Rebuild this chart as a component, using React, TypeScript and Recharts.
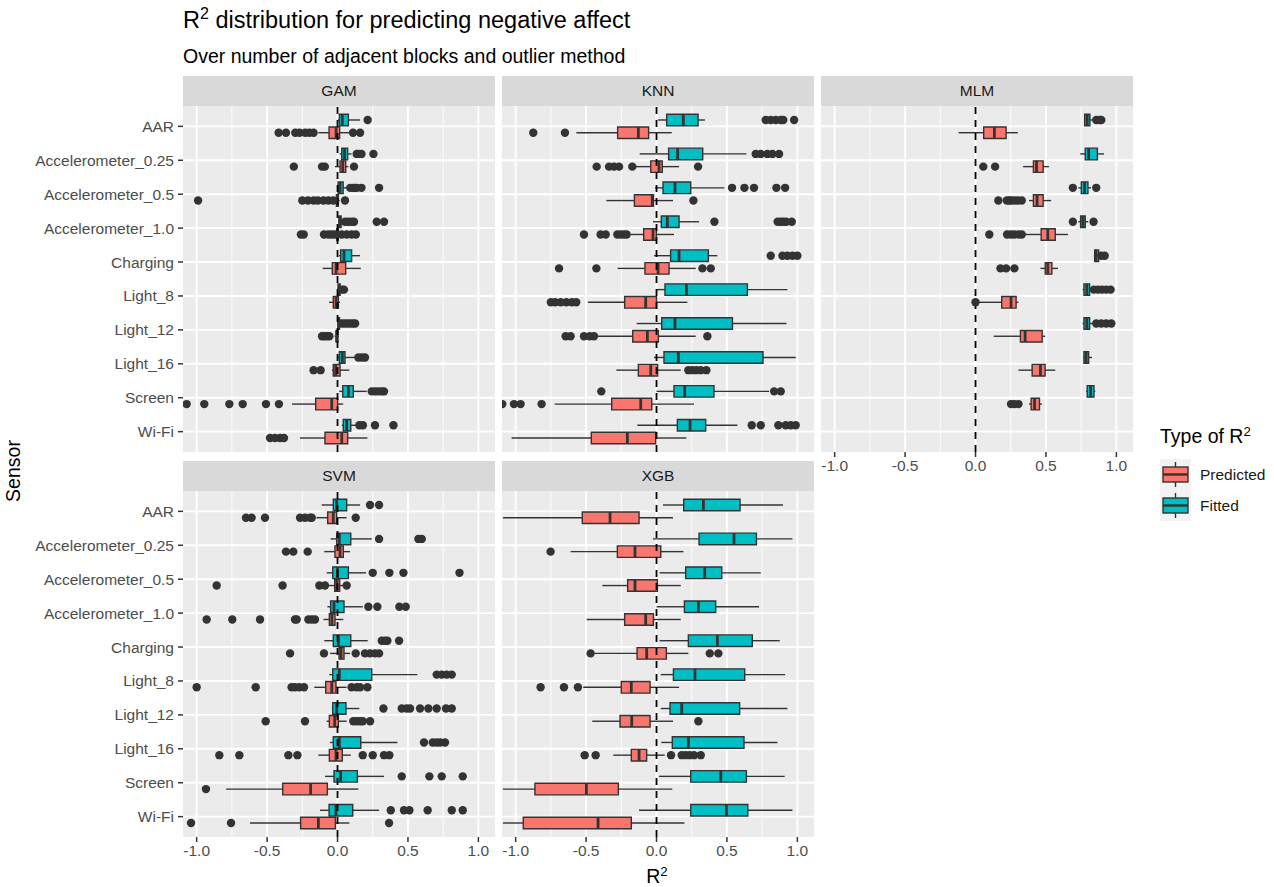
import React from 'react';
import { ScatterChart, Scatter, XAxis, YAxis, CartesianGrid, ReferenceArea, ReferenceLine } from 'recharts';

const FONT = '"Liberation Sans", Arial, Helvetica, sans-serif';
const INK = '#333333';
const FITTED = '#00BFC4';
const PREDICTED = '#F8766D';

const sensors = ['AAR', 'Accelerometer_0.25', 'Accelerometer_0.5', 'Accelerometer_1.0', 'Charging', 'Light_8', 'Light_12', 'Light_16', 'Screen', 'Wi-Fi'];
const sensorIdx = sensors.map((_, i) => i);
const majorX = [-1, -0.5, 0, 0.5, 1];
const minorX = [-0.75, -0.25, 0.25, 0.75];

// box stats per sensor: [lower whisker, q1, median, q3, upper whisker]
const gamFitted = [
  [0.005, 0.013, 0.034, 0.077, 0.16], [0.015, 0.03, 0.05, 0.072, 0.1], [0.0, 0.004, 0.018, 0.04, 0.07],
  [0.005, 0.01, 0.018, 0.025, 0.035], [0.01, 0.022, 0.046, 0.1, 0.16], [0.0, 0.005, 0.01, 0.018, 0.025],
  [0.0, 0.004, 0.008, 0.014, 0.02], [0.005, 0.013, 0.034, 0.053, 0.125], [0.012, 0.037, 0.077, 0.112, 0.207],
  [0.03, 0.041, 0.065, 0.094, 0.13],
];
const gamFittedOut = [
  [0.214], [0.136, 0.15, 0.17, 0.255], [0.09, 0.11, 0.125, 0.136, 0.17, 0.295], [0.053, 0.077, 0.1, 0.117, 0.278, 0.33],
  [], [0.03, 0.046], [0.03, 0.05, 0.07, 0.09, 0.11, 0.125], [0.148, 0.172, 0.195], [0.243, 0.267, 0.29, 0.314, 0.33],
  [0.155, 0.18, 0.266, 0.397],
];
const gamPredicted = [
  [-0.136, -0.06, -0.01, 0.015, 0.09], [-0.018, 0.018, 0.037, 0.058, 0.077], [-0.015, -0.008, 0.0, 0.006, 0.015],
  [-0.01, -0.005, 0.0, 0.006, 0.012], [-0.105, -0.037, -0.01, 0.058, 0.165], [-0.06, -0.03, -0.01, 0.006, 0.018],
  [-0.02, -0.01, -0.005, 0.003, 0.01], [-0.04, -0.03, -0.013, 0.018, 0.084], [-0.323, -0.155, -0.041, 0.001, 0.04],
  [-0.266, -0.089, 0.03, 0.072, 0.212],
];
const gamPredictedOut = [
  [-0.418, -0.366, -0.3, -0.27, -0.23, -0.2, -0.17, 0.11, 0.16], [-0.31, -0.11, -0.09, 0.117],
  [-0.99, -0.25, -0.21, -0.17, -0.14, -0.1, -0.065, -0.03, 0.053],
  [-0.26, -0.24, -0.096, -0.065, -0.041, -0.018, 0.03, 0.065, 0.1, 0.13], [], [],
  [-0.11, -0.095, -0.077, -0.058], [-0.17, -0.12], [-1.071, -0.946, -0.768, -0.673, -0.508, -0.416],
  [-0.479, -0.444, -0.408, -0.38],
];

const knnFitted = [
  [0.01, 0.072, 0.19, 0.295, 0.344], [-0.12, 0.086, 0.15, 0.328, 0.638], [-0.01, 0.046, 0.131, 0.243, 0.482],
  [-0.025, 0.034, 0.077, 0.16, 0.302], [-0.018, 0.1, 0.16, 0.368, 0.432], [0.0, 0.06, 0.212, 0.645, 0.929],
  [-0.141, 0.037, 0.131, 0.539, 0.922], [-0.018, 0.053, 0.155, 0.756, 0.988], [0.0, 0.124, 0.2, 0.408, 0.799],
  [-0.136, 0.148, 0.238, 0.349, 0.574],
];
const knnFittedOut = [
  [0.775, 0.811, 0.847, 0.882, 0.9, 0.977], [0.704, 0.74, 0.787, 0.823, 0.87], [0.536, 0.624, 0.692, 0.851, 0.913],
  [0.411, 0.86, 0.88, 0.9, 0.92, 0.96], [0.811, 0.894, 0.929, 0.965, 1.0], [], [], [],
  [-0.392, 0.835, 0.882], [0.676, 0.74, 0.865, 0.917, 0.953, 0.988],
];
const knnPredicted = [
  [-0.569, -0.276, -0.129, -0.056, 0.108], [-0.148, -0.041, 0.018, 0.041, 0.16], [-0.356, -0.157, -0.03, -0.022, 0.117],
  [-0.183, -0.091, -0.025, -0.001, 0.124], [-0.276, -0.082, 0.011, 0.089, 0.278], [-0.487, -0.226, -0.077, 0.0, 0.219],
  [-0.415, -0.169, -0.065, 0.013, 0.278], [-0.285, -0.129, -0.041, 0.008, 0.172], [-0.723, -0.318, -0.112, -0.034, 0.266],
  [-1.029, -0.463, -0.207, -0.006, 0.212],
];
const knnPredictedOut = [
  [-0.875, -0.65], [-0.425, -0.337, -0.302, -0.266, -0.172, 0.295], [0.262],
  [-0.515, -0.397, -0.361, -0.278, -0.254, -0.231, -0.212], [-0.692, -0.427, 0.326, 0.385],
  [-0.75, -0.72, -0.68, -0.64, -0.6, -0.57], [-0.645, -0.61, -0.515, -0.475, -0.444, 0.361],
  [0.226, 0.254, 0.283, 0.314, 0.354], [-1.095, -1.012, -0.965, -0.816], [],
];

const mlmFitted = [
  [0.77, 0.775, 0.793, 0.812, 0.83], [0.744, 0.779, 0.803, 0.865, 0.912], [0.73, 0.751, 0.774, 0.798, 0.82],
  [0.73, 0.746, 0.763, 0.779, 0.8], [0.84, 0.846, 0.855, 0.874, 0.88], [0.76, 0.77, 0.79, 0.81, 0.83],
  [0.76, 0.77, 0.79, 0.81, 0.83], [0.765, 0.77, 0.785, 0.803, 0.827], [0.785, 0.793, 0.817, 0.841, 0.85],
  null,
];
const mlmFittedOut = [
  [0.857, 0.88, 0.893], [], [0.691, 0.857], [0.691, 0.838], [0.893, 0.917],
  [0.84, 0.869, 0.897, 0.928, 0.959], [0.857, 0.893, 0.928, 0.964], [], [], [],
];
const mlmPredicted = [
  [-0.12, 0.058, 0.134, 0.217, 0.3], [0.338, 0.411, 0.433, 0.48, 0.521], [0.38, 0.411, 0.437, 0.48, 0.537],
  [0.343, 0.466, 0.513, 0.566, 0.656], [0.461, 0.495, 0.513, 0.542, 0.585], [0.01, 0.186, 0.252, 0.288, 0.305],
  [0.129, 0.319, 0.352, 0.473, 0.494], [0.305, 0.402, 0.461, 0.494, 0.566], [0.38, 0.395, 0.419, 0.454, 0.471],
  null,
];
const mlmPredictedOut = [
  [], [0.055, 0.139], [0.162, 0.222, 0.24, 0.253, 0.276, 0.3, 0.328], [0.098, 0.224, 0.252, 0.276, 0.305, 0.328],
  [0.177, 0.217, 0.276], [0.0], [], [], [0.252, 0.276, 0.305], [],
];

const svmFitted = [
  [-0.112, -0.03, -0.006, 0.065, 0.16], [-0.049, -0.006, 0.013, 0.094, 0.243], [-0.077, -0.034, 0.0, 0.077, 0.202],
  [-0.072, -0.049, -0.025, 0.046, 0.179], [-0.094, -0.03, 0.006, 0.094, 0.214], [-0.058, -0.034, 0.013, 0.243, 0.567],
  [-0.04, -0.034, -0.006, 0.06, 0.155], [-0.053, -0.03, 0.013, 0.165, 0.425], [-0.089, -0.025, 0.022, 0.141, 0.33],
  [-0.124, -0.06, -0.011, 0.108, 0.295],
];
const svmFittedOut = [
  [0.231, 0.295], [0.295, 0.574, 0.598], [0.25, 0.368, 0.468, 0.866], [0.219, 0.283, 0.439, 0.484],
  [0.314, 0.337, 0.354, 0.437], [0.704, 0.74, 0.775, 0.811],
  [0.326, 0.456, 0.491, 0.515, 0.586, 0.645, 0.704, 0.77, 0.811], [0.614, 0.676, 0.704, 0.728, 0.763],
  [0.456, 0.652, 0.74, 0.889], [0.378, 0.472, 0.51, 0.64, 0.811, 0.889],
];
const svmPredicted = [
  [-0.15, -0.07, -0.03, -0.006, 0.065], [-0.094, -0.018, 0.018, 0.041, 0.089], [-0.06, -0.02, -0.005, 0.015, 0.04],
  [-0.1, -0.058, -0.04, -0.018, 0.041], [-0.053, 0.011, 0.025, 0.046, 0.089], [-0.165, -0.084, -0.041, -0.011, 0.065],
  [-0.077, -0.058, -0.02, 0.006, 0.065], [-0.136, -0.058, -0.011, 0.034, 0.094], [-0.792, -0.389, -0.191, -0.072, 0.148],
  [-0.621, -0.262, -0.136, -0.015, 0.084],
];
const svmPredictedOut = [
  [-0.65, -0.61, -0.515, -0.266, -0.231, -0.195, -0.183, 0.129], [-0.366, -0.314, -0.212],
  [-0.858, -0.39, -0.129, -0.089, 0.065], [-0.929, -0.747, -0.55, -0.302, -0.29, -0.207, -0.183, -0.16],
  [-0.337, -0.096, 0.129, 0.195, 0.231, 0.266, 0.295],
  [-1.0, -0.581, -0.326, -0.302, -0.271, -0.238, 0.1, 0.136, 0.16, 0.212],
  [-0.51, -0.231, 0.112, 0.136, 0.16, 0.179, 0.231], [-0.839, -0.697, -0.349, -0.285, 0.179, 0.25, 0.33, 0.368],
  [-0.934], [-1.04, -0.756, 0.366],
];

const xgbFitted = [
  [0.046, 0.193, 0.333, 0.593, 0.898], [-0.025, 0.302, 0.55, 0.709, 0.965], [0.022, 0.207, 0.342, 0.463, 0.74],
  [0.0, 0.198, 0.297, 0.42, 0.728], [0.022, 0.226, 0.432, 0.68, 0.875], [0.03, 0.12, 0.273, 0.626, 0.913],
  [0.03, 0.096, 0.179, 0.59, 0.929], [0.034, 0.112, 0.226, 0.621, 0.858], [0.018, 0.243, 0.456, 0.638, 0.91],
  [-0.124, 0.243, 0.496, 0.648, 0.965],
];
const xgbFittedOut = [[], [], [], [], [], [], [], [], [], []];
const xgbPredicted = [
  [-1.09, -0.527, -0.33, -0.124, 0.117], [-0.61, -0.278, -0.153, 0.03, 0.191], [-0.385, -0.205, -0.153, 0.006, 0.172],
  [-0.496, -0.226, -0.077, -0.022, 0.172], [-0.44, -0.138, -0.07, 0.07, 0.226], [-0.52, -0.25, -0.179, -0.046, 0.16],
  [-0.456, -0.259, -0.176, -0.046, 0.117], [-0.307, -0.179, -0.124, -0.07, 0.058], [-1.09, -0.863, -0.498, -0.271, 0.112],
  [-1.09, -0.946, -0.415, -0.179, 0.198],
];
const xgbPredictedOut = [
  [], [-0.752], [], [], [-0.468, 0.378, 0.439], [-0.823, -0.657, -0.558], [0.297],
  [-0.51, -0.432, 0.103, 0.179, 0.207, 0.236, 0.266, 0.314], [], [],
];

type Stats = number[] | null;
interface PanelDef {
  name: string;
  fitted: Stats[];
  fittedOut: number[][];
  predicted: Stats[];
  predictedOut: number[][];
  col: number;
  row: number;
  showY: boolean;
  showX: boolean;
}

const panels: PanelDef[] = [
  { name: 'GAM', fitted: gamFitted, fittedOut: gamFittedOut, predicted: gamPredicted, predictedOut: gamPredictedOut, col: 0, row: 0, showY: true, showX: false },
  { name: 'KNN', fitted: knnFitted, fittedOut: knnFittedOut, predicted: knnPredicted, predictedOut: knnPredictedOut, col: 1, row: 0, showY: false, showX: false },
  { name: 'MLM', fitted: mlmFitted, fittedOut: mlmFittedOut, predicted: mlmPredicted, predictedOut: mlmPredictedOut, col: 2, row: 0, showY: false, showX: true },
  { name: 'SVM', fitted: svmFitted, fittedOut: svmFittedOut, predicted: svmPredicted, predictedOut: svmPredictedOut, col: 0, row: 1, showY: true, showX: true },
  { name: 'XGB', fitted: xgbFitted, fittedOut: xgbFittedOut, predicted: xgbPredicted, predictedOut: xgbPredictedOut, col: 1, row: 1, showY: false, showX: true },
];

const COL_LEFT = [183, 502, 821];
const ROW_TOP = [106, 491];
const PLOT_W = 312;
const PLOT_H = 346;
const STRIP_H = 30;
const Y_AXIS_W = 183;
const X_AXIS_H = 32;
const DODGE = 0.1875;
const HALF = 0.17;

const OutlierDot = (props: any) => <circle cx={props.cx} cy={props.cy} r={4.2} fill={INK} />;

function boxMarks(stats: Stats, pos: number, color: string, key: string) {
  if (!stats) return null;
  const [lo, q1, med, q3, hi] = stats;
  return (
    <React.Fragment key={key}>
      <ReferenceLine segment={[{ x: lo, y: pos }, { x: q1, y: pos }]} stroke={INK} strokeWidth={1.4} />
      <ReferenceLine segment={[{ x: q3, y: pos }, { x: hi, y: pos }]} stroke={INK} strokeWidth={1.4} />
      <ReferenceArea x1={q1} x2={q3} y1={pos - HALF} y2={pos + HALF} fill={color} fillOpacity={1} stroke={INK} strokeWidth={1.4} />
      <ReferenceLine segment={[{ x: med, y: pos - HALF }, { x: med, y: pos + HALF }]} stroke={INK} strokeWidth={2.8} />
    </React.Fragment>
  );
}

function Panel({ p }: { p: PanelDef }) {
  const left = COL_LEFT[p.col];
  const top = ROW_TOP[p.row];
  const points: { x: number; y: number }[] = [];
  p.fittedOut.forEach((arr, i) => arr.forEach((v) => points.push({ x: v, y: i - DODGE })));
  p.predictedOut.forEach((arr, i) => arr.forEach((v) => points.push({ x: v, y: i + DODGE })));
  const chartLeft = p.showY ? left - Y_AXIS_W : left;
  const chartW = PLOT_W + (p.showY ? Y_AXIS_W : 0);
  const chartH = PLOT_H + (p.showX ? X_AXIS_H : 0);
  const tickStyle = { fill: '#4D4D4D', fontSize: 15.5, fontFamily: FONT };

  return (
    <>
      <div
        style={{
          position: 'absolute', left, top: top - STRIP_H, width: PLOT_W, height: STRIP_H,
          background: '#D9D9D9', color: '#1A1A1A', fontSize: 15.5,
          display: 'flex', alignItems: 'center', justifyContent: 'center',
        }}
      >
        {p.name}
      </div>
      <div style={{ position: 'absolute', left: chartLeft, top }}>
        <ScatterChart width={chartW} height={chartH} margin={{ top: 0, right: 0, bottom: 0, left: 0 }}>
          <CartesianGrid fill="#EBEBEB" stroke="#FFFFFF" strokeWidth={0.9} horizontal={false} verticalValues={minorX} />
          <CartesianGrid stroke="#FFFFFF" strokeWidth={1.9} horizontalValues={sensorIdx} verticalValues={majorX} />
          <XAxis
            type="number"
            dataKey="x"
            domain={[-1.097, 1.118]}
            allowDataOverflow
            ticks={majorX}
            interval={0}
            hide={!p.showX}
            height={X_AXIS_H}
            axisLine={false}
            tickLine={{ stroke: INK, strokeWidth: 1.5 }}
            tickSize={5}
            tickMargin={3}
            tick={tickStyle}
            tickFormatter={(v: number) => v.toFixed(1)}
          />
          <YAxis
            type="number"
            dataKey="y"
            domain={[-0.6, 9.6]}
            allowDataOverflow
            reversed
            ticks={sensorIdx}
            interval={0}
            hide={!p.showY}
            width={Y_AXIS_W}
            axisLine={false}
            tickLine={{ stroke: INK, strokeWidth: 1.5 }}
            tickSize={5}
            tickMargin={4}
            tick={tickStyle}
            tickFormatter={(v: number) => sensors[v] ?? ''}
          />
          {sensors.map((s, i) => boxMarks(p.fitted[i], i - DODGE, FITTED, `f-${s}`))}
          {sensors.map((s, i) => boxMarks(p.predicted[i], i + DODGE, PREDICTED, `p-${s}`))}
          <ReferenceLine x={0} stroke="#000000" strokeWidth={1.8} strokeDasharray="7 6" />
          <Scatter data={points} shape={OutlierDot} isAnimationActive={false} />
        </ScatterChart>
      </div>
    </>
  );
}

const Sup = ({ children }: { children: React.ReactNode }) => (
  <span style={{ fontSize: '0.68em', position: 'relative', top: '-0.55em', lineHeight: 0 }}>{children}</span>
);

function LegendKey({ color }: { color: string }) {
  return (
    <svg width={31} height={31} style={{ display: 'block' }}>
      <rect width={31} height={31} fill="#F2F2F2" />
      <line x1={15.5} x2={15.5} y1={3} y2={8} stroke={INK} strokeWidth={1.4} />
      <line x1={15.5} x2={15.5} y1={23} y2={28} stroke={INK} strokeWidth={1.4} />
      <rect x={3} y={8} width={25} height={15} fill={color} stroke={INK} strokeWidth={1.4} />
      <line x1={3} x2={28} y1={15.5} y2={15.5} stroke={INK} strokeWidth={2.4} />
    </svg>
  );
}

const centerY: React.CSSProperties = { position: 'absolute', transform: 'translateY(-50%)', lineHeight: 1, whiteSpace: 'nowrap' };

export default function App() {
  return (
    <div style={{ position: 'absolute', left: 0, top: 0, width: 1274, height: 887, background: '#FFFFFF', fontFamily: FONT, overflow: 'hidden' }}>
      <div style={{ ...centerY, left: 183, top: 21, fontSize: 23.5, color: '#000' }}>
        R<Sup>2</Sup> distribution for predicting negative affect
      </div>
      <div style={{ ...centerY, left: 183, top: 57, fontSize: 19.5, color: '#000' }}>
        Over number of adjacent blocks and outlier method
      </div>

      {panels.map((p) => (
        <Panel key={p.name} p={p} />
      ))}

      <div style={{ ...centerY, left: 657, top: 877, fontSize: 19.5, transform: 'translate(-50%, -50%)' }}>
        R<Sup>2</Sup>
      </div>
      <div style={{ ...centerY, left: 14, top: 471, fontSize: 19.5, transform: 'translate(-50%, -50%) rotate(-90deg)' }}>
        Sensor
      </div>

      <div style={{ ...centerY, left: 1160, top: 437, fontSize: 19.5 }}>
        Type of R<Sup>2</Sup>
      </div>
      <div style={{ position: 'absolute', left: 1160, top: 459 }}>
        <LegendKey color={PREDICTED} />
      </div>
      <div style={{ position: 'absolute', left: 1160, top: 490 }}>
        <LegendKey color={FITTED} />
      </div>
      <div style={{ ...centerY, left: 1200, top: 474.5, fontSize: 15.5, color: '#1A1A1A' }}>Predicted</div>
      <div style={{ ...centerY, left: 1200, top: 505.5, fontSize: 15.5, color: '#1A1A1A' }}>Fitted</div>
    </div>
  );
}
